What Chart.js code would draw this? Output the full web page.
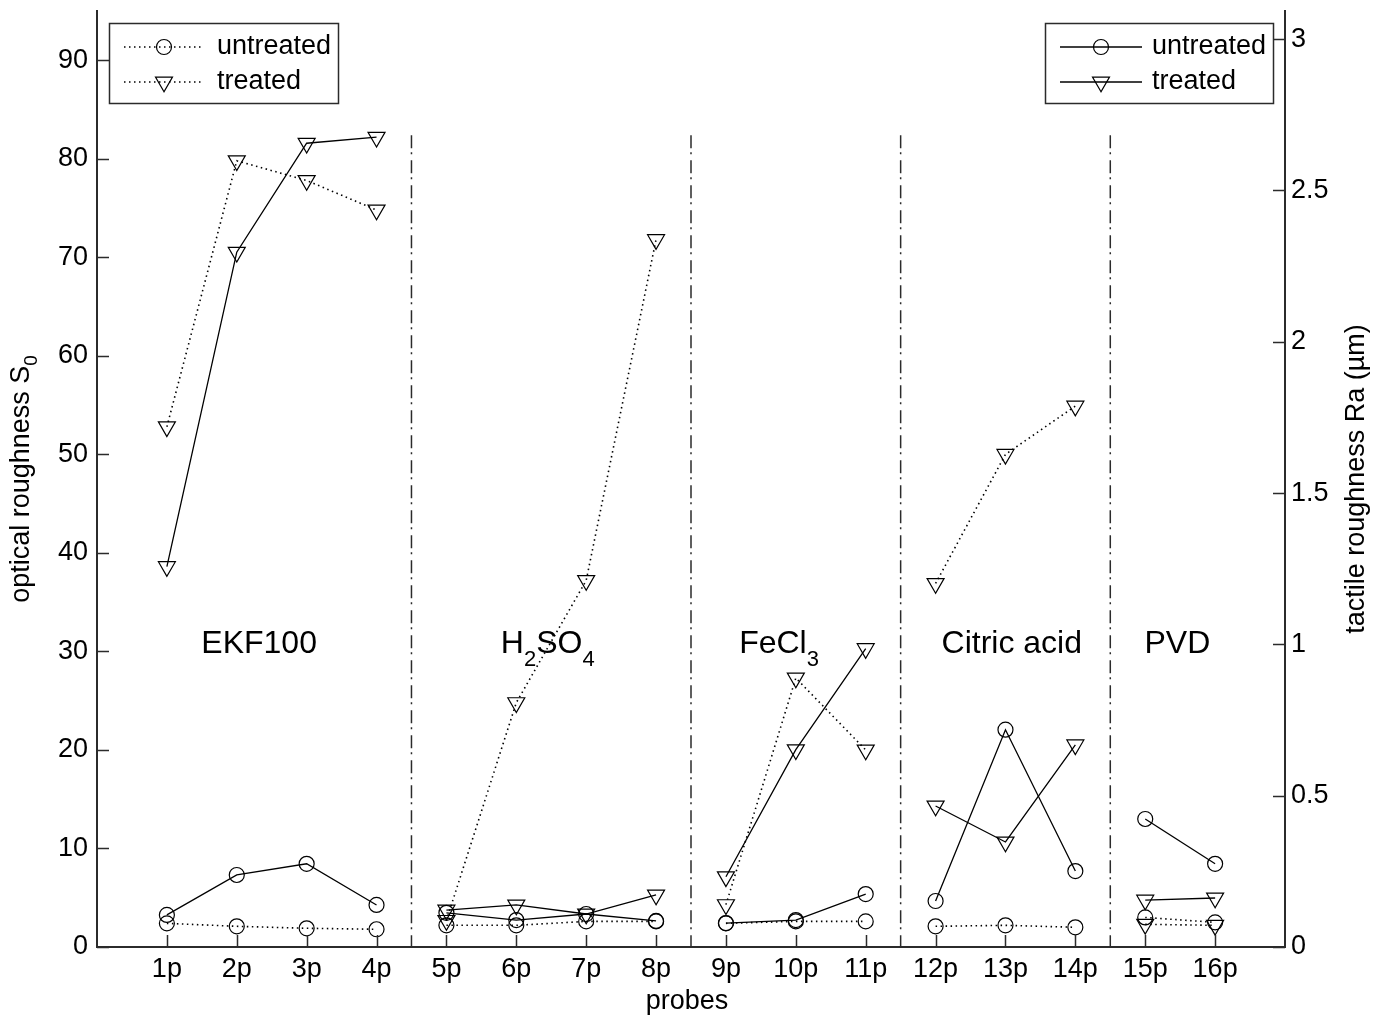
<!DOCTYPE html>
<html><head><meta charset="utf-8">
<script src="https://cdn.jsdelivr.net/npm/chart.js@4"></script>
<style>html,body{margin:0;padding:0;background:#fff;} canvas{display:block;}</style>
</head><body>
<canvas id="c" width="1382" height="1018"></canvas>
<script>
// ---------- data ----------
const probes = ['1p','2p','3p','4p','5p','6p','7p','8p','9p','10p','11p','12p','13p','14p','15p','16p'];
const groupOf = [0,0,0,0,1,1,1,1,2,2,2,3,3,3,4,4];
const groupNames = ['EKF100', 'H_2SO_4', 'FeCl_3', 'Citric acid', 'PVD'];
// optical roughness S0 (left axis, dotted)
const opticalUntreated = [2.4, 2.1, 1.9, 1.8, 2.2, 2.2, 2.6, 2.6, 2.4, 2.6, 2.6, 2.1, 2.2, 2.0, 3.0, 2.5];
const opticalTreated   = [52.8, 79.8, 77.8, 74.8, 2.7, 24.8, 37.2, 71.8, 4.3, 27.3, 20.0, 36.9, 50.0, 54.9, 2.3, 2.2];
// tactile roughness Ra in um (right axis, solid)
const tactileUntreated = [0.106, 0.238, 0.275, 0.139, 0.113, 0.089, 0.109, 0.086, 0.079, 0.089, 0.175, 0.152, 0.718, 0.251, 0.423, 0.275];
const tactileTreated   = [1.257, 2.296, 2.656, 2.676, 0.122, 0.139, 0.109, 0.172, 0.232, 0.652, 0.986, 0.466, 0.347, 0.668, 0.155, 0.162];
const leftTicks = [0,10,20,30,40,50,60,70,80,90];
const rightTicks = [0,0.5,1,1.5,2,2.5,3];
const separators = [4.5, 8.5, 11.5, 14.5];
const separatorTop = 82.4;
const seriesLabels = ['untreated', 'treated'];
const leftTitle = 'optical roughness S_0';
const rightTitle = 'tactile roughness Ra (\u00b5m)';
const xTitle = 'probes';

// ---------- styling / layout ----------
const FONT = "'Liberation Sans', Arial, Helvetica, sans-serif";
const INK = '#000';
const AXIS = '#2b2b2b';
const DOT = [1.5, 3.5];
const DASHDOT = [13, 4, 2, 6];
const annotPos = [
  {x: 2.32, y: 29.8}, {x: 6.45, y: 29.8}, {x: 9.76, y: 29.8}, {x: 13.09, y: 29.8}, {x: 15.46, y: 29.8}
];

function pts(arr){ return arr.map((v,i)=>({x:i+1, y:v})); }
const seg = { borderColor: c => groupOf[c.p0DataIndex] === groupOf[c.p1DataIndex] ? INK : 'rgba(0,0,0,0)' };

function series(data, axis, dotted, tri){
  return {
    data: pts(data), yAxisID: axis, borderColor: INK, borderWidth: dotted ? 1.6 : 1.3,
    borderDash: dotted ? DOT : [], segment: seg, tension: 0, fill: false,
    pointStyle: tri ? 'triangle' : 'circle', pointRotation: tri ? 180 : 0,
    pointRadius: tri ? 9.8 : 7.5, pointBorderColor: INK, pointBorderWidth: 1.2,
    pointBackgroundColor: 'rgba(0,0,0,0)', pointHoverRadius: tri ? 9.8 : 7.5
  };
}
const datasets = [
  series(opticalUntreated, 'yL', true, false),
  series(opticalTreated, 'yL', true, true),
  series(tactileUntreated, 'yR', false, false),
  series(tactileTreated, 'yR', false, true)
];
separators.forEach(s => datasets.push({
  data: [{x: s, y: separatorTop}, {x: s, y: 0}], yAxisID: 'yL', borderColor: AXIS, borderWidth: 1.5,
  borderDash: DASHDOT, pointRadius: 0, pointHoverRadius: 0, fill: false, tension: 0
}));

function parseRich(str){
  const out = []; let i = 0; let buf = '';
  while (i < str.length){
    if (str[i] === '_' && i+1 < str.length){
      if (buf) out.push({t: buf, sub: false}); buf = '';
      out.push({t: str[i+1], sub: true}); i += 2;
    } else { buf += str[i]; i++; }
  }
  if (buf) out.push({t: buf, sub: false});
  return out;
}
function drawRich(ctx, str, x, y, size, subSize, subDy){
  const parts = parseRich(str);
  let total = 0;
  parts.forEach(p => { ctx.font = (p.sub ? subSize : size) + 'px ' + FONT; p.w = ctx.measureText(p.t).width; total += p.w; });
  let cx = x - total/2;
  ctx.textAlign = 'left';
  parts.forEach(p => {
    ctx.font = (p.sub ? subSize : size) + 'px ' + FONT;
    ctx.fillText(p.t, cx, y + (p.sub ? subDy : 0));
    cx += p.w;
  });
}

const decor = {
  id: 'decor',
  afterDatasetsDraw(chart){
    const ctx = chart.ctx;
    const xs = chart.scales.x, yl = chart.scales.yL, yr = chart.scales.yR;
    const ca = chart.chartArea;
    ctx.save();
    // inward ticks
    ctx.strokeStyle = AXIS; ctx.lineWidth = 1.5; ctx.setLineDash([]);
    ctx.beginPath();
    xs.ticks.forEach(t => { const px = Math.round(xs.getPixelForValue(t.value)) + 0.5; ctx.moveTo(px, ca.bottom); ctx.lineTo(px, ca.bottom - 12); });
    yl.ticks.forEach(t => { const py = Math.round(yl.getPixelForValue(t.value)) + 0.5; ctx.moveTo(ca.left, py); ctx.lineTo(ca.left + 12, py); });
    yr.ticks.forEach(t => { const py = Math.round(yr.getPixelForValue(t.value)) + 0.5; ctx.moveTo(ca.right, py); ctx.lineTo(ca.right - 12, py); });
    ctx.stroke();

    // annotations
    ctx.fillStyle = INK; ctx.textBaseline = 'alphabetic';
    groupNames.forEach((g, i) => {
      drawRich(ctx, g, xs.getPixelForValue(annotPos[i].x), yl.getPixelForValue(annotPos[i].y), 32, 22, 13);
    });

    // legends
    const legends = [
      {box: [109.5, 23.5, 229, 80], line: [124, 204], mark: 164, text: 217, dash: DOT},
      {box: [1045.5, 23.5, 228, 80], line: [1060, 1142], mark: 1101, text: 1152, dash: []}
    ];
    legends.forEach(L => {
      ctx.fillStyle = '#fff'; ctx.fillRect(L.box[0], L.box[1], L.box[2], L.box[3]);
      ctx.strokeStyle = AXIS; ctx.lineWidth = 1.5; ctx.setLineDash([]);
      ctx.strokeRect(L.box[0], L.box[1], L.box[2], L.box[3]);
      [47, 82].forEach((ry, k) => {
        ctx.strokeStyle = INK; ctx.lineWidth = L.dash.length ? 1.6 : 1.3; ctx.setLineDash(L.dash);
        ctx.beginPath(); ctx.moveTo(L.line[0], ry); ctx.lineTo(L.line[1], ry); ctx.stroke();
        ctx.setLineDash([]); ctx.lineWidth = 1.2; ctx.fillStyle = 'rgba(0,0,0,0)';
        Chart.helpers.drawPoint(ctx, {pointStyle: k === 0 ? 'circle' : 'triangle', rotation: k === 0 ? 0 : 180,
          radius: k === 0 ? 7.5 : 9.8, borderWidth: 1.2}, L.mark, ry);
        ctx.fillStyle = INK; ctx.font = '27px ' + FONT; ctx.textAlign = 'left'; ctx.textBaseline = 'middle';
        ctx.fillText(seriesLabels[k], L.text, ry);
      });
    });

    // axis titles
    ctx.fillStyle = INK; ctx.textBaseline = 'middle';
    ctx.save(); ctx.translate(22, (ca.top + ca.bottom)/2); ctx.rotate(-Math.PI/2);
    drawRich(ctx, leftTitle, 0, 0, 27, 19, 10); ctx.restore();
    ctx.save(); ctx.translate(1357, (ca.top + ca.bottom)/2); ctx.rotate(-Math.PI/2);
    drawRich(ctx, rightTitle, 0, 0, 27, 19, 10); ctx.restore();
    ctx.font = '27px ' + FONT; ctx.textAlign = 'center'; ctx.textBaseline = 'middle';
    ctx.fillText(xTitle, (ca.left + ca.right)/2 - 4, 1002);
    ctx.restore();
  }
};

function noPad(s){ s.paddingTop = 0; s.paddingBottom = 0; s.paddingLeft = 0; s.paddingRight = 0; }
const tickFont = {family: FONT, size: 27};
new Chart(document.getElementById('c'), {
  type: 'line',
  data: { datasets },
  options: {
    responsive: false, animation: false, devicePixelRatio: 1,
    layout: { padding: { top: 10, left: 0, right: 0, bottom: 0 } },
    plugins: { legend: { display: false }, tooltip: { enabled: false } },
    scales: {
      x: {
        type: 'linear', min: 0, max: 17,
        afterBuildTicks: s => { s.ticks = probes.map((p, i) => ({value: i + 1})); },
        ticks: { callback: v => probes[v - 1] || '', font: tickFont, color: INK, padding: 6, maxRotation: 0, autoSkip: false },
        grid: { display: false, drawTicks: false },
        border: { display: true, color: AXIS, width: 2 },
        afterFit: s => { s.height = 71; noPad(s); }
      },
      yL: {
        type: 'linear', position: 'left', min: 0, max: 95,
        afterBuildTicks: s => { s.ticks = leftTicks.map(v => ({value: v})); },
        ticks: { font: tickFont, color: INK, padding: 9, callback: v => String(v) },
        grid: { display: false, drawTicks: false },
        border: { display: true, color: AXIS, width: 2 },
        afterFit: s => { s.width = 97; noPad(s); }
      },
      yR: {
        type: 'linear', position: 'right', min: 0, max: 3.093,
        afterBuildTicks: s => { s.ticks = rightTicks.map(v => ({value: v})); },
        ticks: { font: tickFont, color: INK, padding: 6, callback: v => String(v) },
        grid: { display: false, drawTicks: false },
        border: { display: true, color: AXIS, width: 2 },
        afterFit: s => { s.width = 97; noPad(s); }
      }
    }
  },
  plugins: [decor]
});
</script>
</body></html>
